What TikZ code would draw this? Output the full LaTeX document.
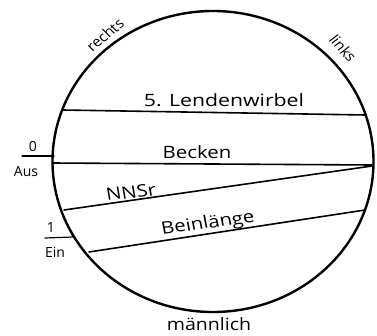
\documentclass[tikz,border=0pt]{standalone}
\usepackage{fontspec}
\setmainfont{Open Sans}
\begin{document}
\begin{tikzpicture}[x=1pt,y=-1pt,
  lbl/.style={inner sep=0pt, font=\fontsize{17}{17}\selectfont},
  small/.style={inner sep=0pt, font=\fontsize{14}{14}\selectfont},
  ln/.style={line width=1.6pt, line cap=round},
  rim/.style={line width=2.4pt}]
\useasboundingbox (0,0) rectangle (377,335);
\coordinate (c) at (213,161.5);
\draw[rim] (c) ellipse [x radius=160.5, y radius=150.5];
% lines
\coordinate (l5a) at (63,110);
\coordinate (l5b) at (366,115);
\coordinate (bka) at (53,163);
\coordinate (bkb) at (373,165);
\coordinate (nna) at (64,210);
\coordinate (nnb) at (372,166);
\coordinate (bla) at (89,252);
\coordinate (blb) at (365,210);
\coordinate (t0a) at (22,156);
\coordinate (t0b) at (54,156);
\coordinate (t1a) at (45,238);
\coordinate (t1b) at (73,237);
\draw[ln] (l5a) -- (l5b);
\draw[ln] (bka) -- (bkb);
\draw[ln] (nna) -- (nnb);
\draw[ln] (bla) -- (blb);
\draw[ln, line width=1.2pt] (t0a) -- (t0b);
\draw[ln, line width=1.2pt] (t1a) -- (t1b);
% labels
\node[lbl, xscale=1.25] (tl5) at (224,100) {5. Lendenwirbel};
\node[lbl, xscale=1.2] (tbk) at (197,152) {Becken};
\node[lbl, xscale=1.2, rotate=8] (tnn) at (131,192) {NNSr};
\node[lbl, xscale=1.2, rotate=9] (tbl) at (208,224) {Beinlänge};
\node[lbl, xscale=1.15] (tma) at (209,324) {männlich};
\node[small, xscale=1.1, rotate=42] (tre) at (105,35) {rechts};
\node[small, xscale=1.1, rotate=-50] (tli) at (343,48) {links};
\node[small] (t0) at (33,146) {0};
\node[small] (taus) at (26,172) {Aus};
\node[small] (t1) at (51,227) {1};
\node[small] (tein) at (55,252) {Ein};
\end{tikzpicture}
\end{document}
